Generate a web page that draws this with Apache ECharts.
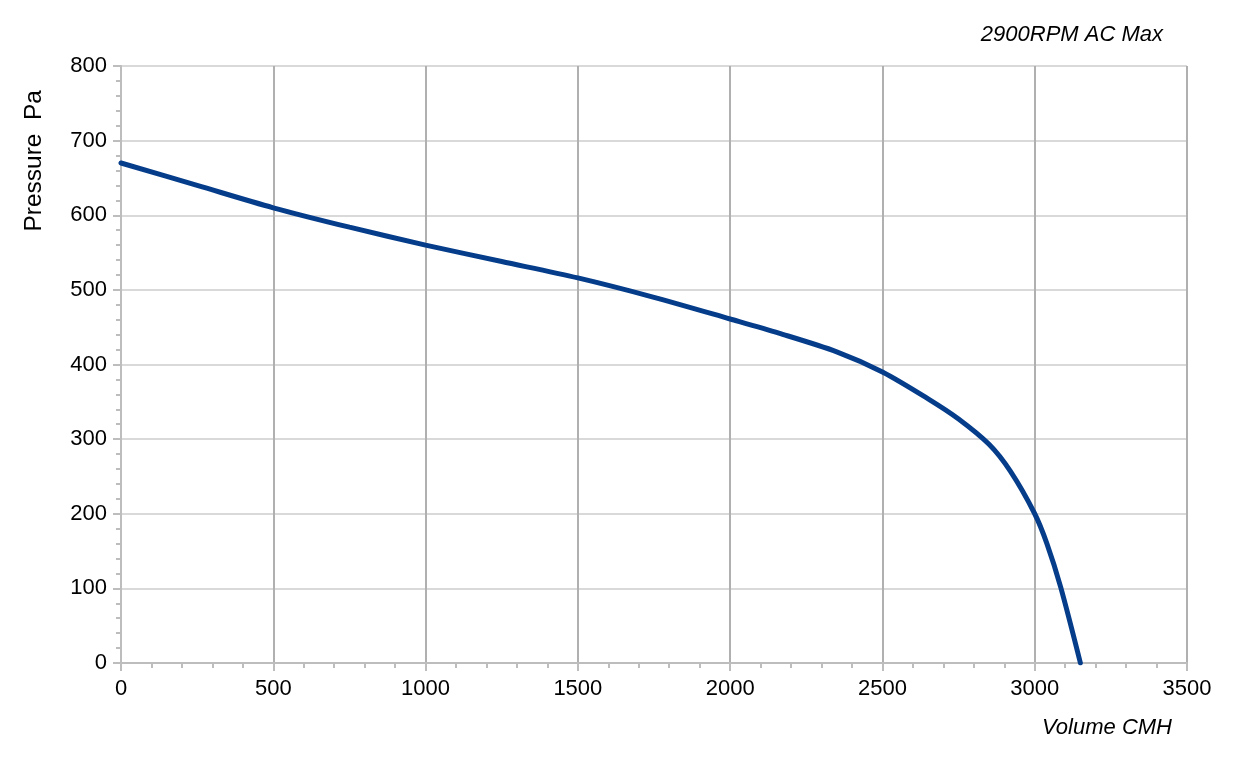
<!DOCTYPE html>
<html><head><meta charset="utf-8">
<script src="https://cdn.jsdelivr.net/npm/echarts@6/dist/echarts.min.js"></script>
<style>html,body{margin:0;padding:0;background:#fff}#c{width:1233px;height:757px}</style>
</head><body><div id="c"></div>
<script>
const volume = [0, 250, 500, 750, 1000, 1250, 1500, 1750, 2000, 2160, 2350, 2500, 2650, 2750, 2850, 2920, 3000, 3040, 3085, 3150];
const pressure = [670, 640, 610, 584, 560, 538, 516, 490, 461, 442, 417, 390, 354, 327, 293, 257, 200, 160, 102, 0];
const titleText = '2900RPM AC Max';
const xName = 'Volume CMH';
const yName = 'Pressure  Pa';

const chart = echarts.init(document.getElementById('c'));
const font = 'Liberation Sans, Arial, sans-serif';
chart.setOption({
  animation: false,
  grid: {left: 121, right: 46, top: 66, bottom: 94},
  xAxis: {
    type: 'value', min: 0, max: 3500, interval: 500,
    axisLine: {show: true, onZero: false, lineStyle: {color: '#bdbdbd', width: 2}},
    axisTick: {show: true, length: 8, lineStyle: {color: '#bdbdbd', width: 2}},
    minorTick: {show: true, splitNumber: 5, length: 5, lineStyle: {color: '#bdbdbd', width: 2}},
    splitLine: {show: true, lineStyle: {color: '#b0b0b0', width: 2}},
    axisLabel: {color: '#000', fontSize: 22, fontFamily: font, margin: 15, formatter: v => String(v)}
  },
  yAxis: {
    type: 'value', min: 0, max: 800, interval: 100,
    axisLine: {show: true, lineStyle: {color: '#bdbdbd', width: 2}},
    axisTick: {show: true, length: 8, lineStyle: {color: '#bdbdbd', width: 2}},
    minorTick: {show: true, splitNumber: 5, length: 5, lineStyle: {color: '#bdbdbd', width: 2}},
    splitLine: {show: true, lineStyle: {color: '#d9d9d9', width: 2}},
    axisLabel: {color: '#000', fontSize: 22, fontFamily: font, margin: 14, formatter: v => String(v)}
  },
  graphic: [
    {type: 'text', right: 70, top: 24, style: {text: titleText, fontSize: 22, fontStyle: 'italic', fontFamily: font, fill: '#000'}},
    {type: 'text', right: 61, top: 717, style: {text: xName, fontSize: 22, fontStyle: 'italic', fontFamily: font, fill: '#000'}},
    {type: 'text', left: 22, top: 90, rotation: Math.PI / 2, style: {text: yName, fontSize: 24.5, fontFamily: font, fill: '#000'}}
  ],
  series: [{
    type: 'line', data: volume.map((v, i) => [v, pressure[i]]),
    smooth: 0.3, showSymbol: false,
    lineStyle: {color: '#053d8b', width: 5, cap: 'round'}
  }]
});
</script></body></html>
